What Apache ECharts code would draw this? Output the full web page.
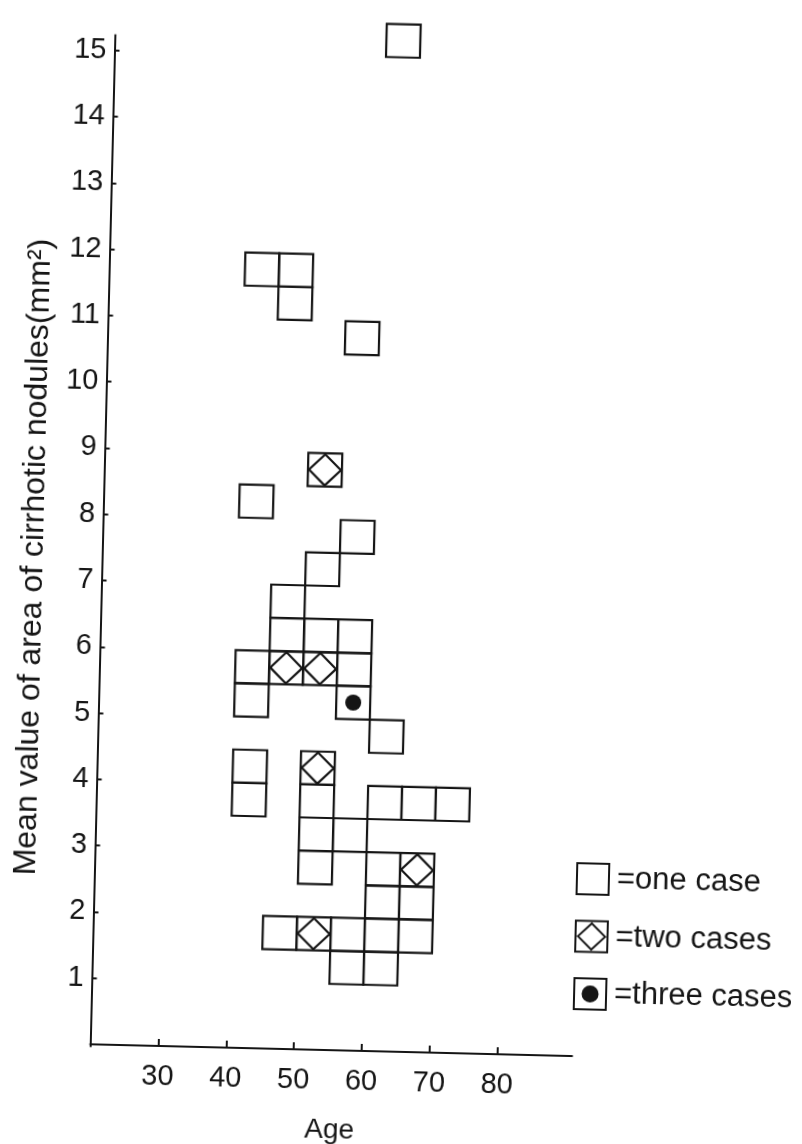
<!DOCTYPE html>
<html>
<head>
<meta charset="utf-8">
<script src="https://cdn.jsdelivr.net/npm/echarts@6/dist/echarts.min.js"></script>
<style>
  html, body { margin: 0; padding: 0; background: #ffffff; overflow: hidden; }
  #chart { width: 802px; height: 1144px; transform: rotate(1.4deg); transform-origin: 330px 545px; }
</style>
</head>
<body>
<div id="chart"></div>
<script>
// Cells of the age x nodule-area histogram: [age bin start (years), area bin start (mm²)]
const oneCase = [
  [60, 15.0],
  [40, 11.5], [45, 11.5], [45, 11.0],
  [55, 10.5],
  [40, 8.0],
  [55, 7.5],
  [50, 7.0],
  [45, 6.5],
  [45, 6.0], [50, 6.0], [55, 6.0],
  [40, 5.5], [55, 5.5],
  [40, 5.0],
  [60, 4.5],
  [40, 4.0], [40, 3.5],
  [50, 3.5], [50, 3.0], [50, 2.5],
  [55, 3.0],
  [60, 3.5], [65, 3.5], [70, 3.5],
  [60, 2.5],
  [60, 2.0], [65, 2.0],
  [45, 1.5], [55, 1.5], [60, 1.5], [65, 1.5],
  [55, 1.0], [60, 1.0]
];
const twoCases = [[50, 8.5], [45, 5.5], [50, 5.5], [50, 4.0], [65, 2.5], [50, 1.5]];
const threeCases = [[55, 5.0]];
const ageBinWidth = 5;
const areaBinHeight = 0.5;
const xTickLabels = [30, 40, 50, 60, 70, 80];
const yTickLabels = [1, 2, 3, 4, 5, 6, 7, 8, 9, 10, 11, 12, 13, 14, 15];
const seriesNames = ['one case', 'two cases', 'three cases'];

const INK = '#151515';
const FONT = '"Liberation Sans", Arial, Helvetica, sans-serif';

function makeRender(kind) {
  return function (params, api) {
    const a = api.value(0), v = api.value(1);
    const p0 = api.coord([a, v + areaBinHeight]);
    const p1 = api.coord([a + ageBinWidth, v]);
    const x = p0[0], y = p0[1], w = p1[0] - p0[0], h = p1[1] - p0[1];
    const children = [{
      type: 'rect',
      shape: { x: x, y: y, width: w, height: h },
      style: { fill: 'none', stroke: INK, lineWidth: 2.2 }
    }];
    const cx = x + w / 2, cy = y + h / 2;
    if (kind === 2) {
      children.push({
        type: 'polygon',
        shape: { points: [[cx, y + 1], [x + w - 1, cy], [cx, y + h - 1], [x + 1, cy]] },
        style: { fill: 'none', stroke: INK, lineWidth: 2.2 }
      });
    } else if (kind === 3) {
      children.push({
        type: 'circle',
        shape: { cx: cx, cy: cy, r: 8 },
        style: { fill: INK, stroke: 'none' }
      });
    }
    return { type: 'group', children: children };
  };
}

const sq = 'M0,0 L34,0 L34,33 L0,33 Z M2,2 L2,31 L32,31 L32,2 Z';
const icons = [
  'path://' + sq,
  'path://' + sq + ' M17,2 L32,16.5 L17,31 L2,16.5 Z M17,4.8 L4.8,16.5 L17,28.2 L29.2,16.5 Z',
  'path://' + sq + ' M8.5,16.5 A8.5,8.5 0 1,0 25.5,16.5 A8.5,8.5 0 1,0 8.5,16.5 Z'
];

const chart = echarts.init(document.getElementById('chart'), null, { renderer: 'canvas', width: 802, height: 1144 });
chart.setOption({
  backgroundColor: '#ffffff',
  animation: false,
  textStyle: { fontFamily: FONT, color: INK },
  grid: { left: 102.5, top: 40.5, width: 482, height: 1011.5, outerBoundsMode: 'none', containLabel: false },
  xAxis: {
    type: 'value', min: 20, max: 91,
    name: 'Age', nameLocation: 'middle', nameGap: 64,
    nameTextStyle: { fontSize: 28, color: INK, fontFamily: FONT },
    axisLine: { show: true, lineStyle: { color: INK, width: 2 } },
    axisTick: { show: true, inside: true, length: 7, customValues: xTickLabels, lineStyle: { color: INK, width: 2 } },
    axisLabel: { show: true, customValues: xTickLabels, margin: 14, fontSize: 29, color: INK, fontFamily: FONT },
    splitLine: { show: false }
  },
  yAxis: {
    type: 'value', min: -0.03, max: 15.23,
    name: 'Mean value of area of cirrhotic nodules(mm²)', nameLocation: 'middle', nameGap: 52, nameRotate: 90,
    nameTextStyle: { fontSize: 32, color: INK, fontFamily: FONT, padding: [0, 36, 0, 0] },
    axisLine: { show: true, lineStyle: { color: INK, width: 2 } },
    axisTick: { show: true, inside: true, length: 5, customValues: yTickLabels, lineStyle: { color: INK, width: 2 } },
    axisLabel: { show: true, customValues: yTickLabels, margin: 8, fontSize: 29, color: INK, fontFamily: FONT },
    splitLine: { show: false }
  },
  legend: {
    show: true, orient: 'vertical', left: 579, top: 851,
    itemWidth: 34, itemHeight: 33, itemGap: 24.5,
    itemStyle: { borderWidth: 0 },
    formatter: function (n) { return '=' + n; },
    textStyle: { fontSize: 31, color: INK, fontFamily: FONT, padding: [0, 0, 0, 2] },
    data: seriesNames.map(function (n, i) { return { name: n, icon: icons[i] }; })
  },
  series: [
    { type: 'custom', name: seriesNames[0], clip: false, itemStyle: { color: INK }, renderItem: makeRender(1), data: oneCase },
    { type: 'custom', name: seriesNames[1], clip: false, itemStyle: { color: INK }, renderItem: makeRender(2), data: twoCases },
    { type: 'custom', name: seriesNames[2], clip: false, itemStyle: { color: INK }, renderItem: makeRender(3), data: threeCases }
  ]
});
</script>
</body>
</html>
